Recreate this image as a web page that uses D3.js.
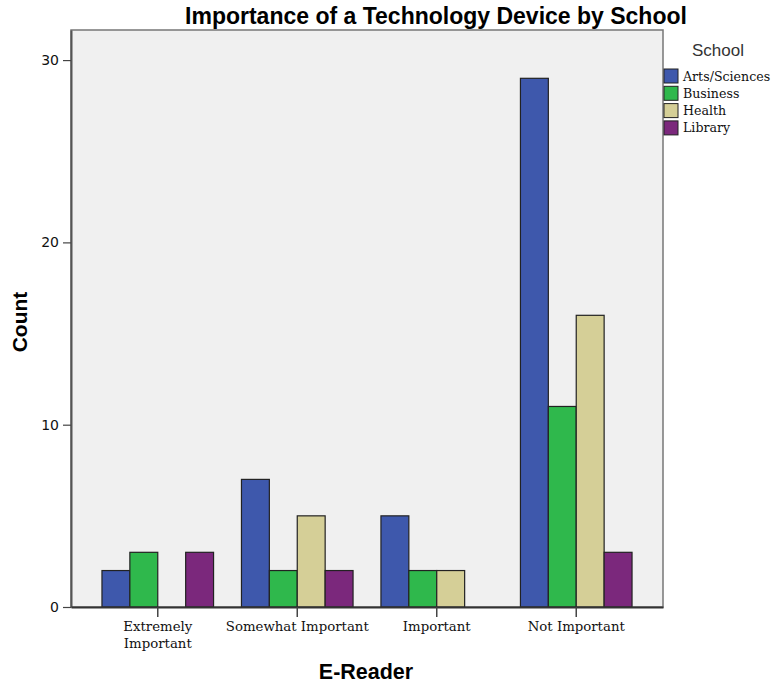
<!DOCTYPE html>
<html><head><meta charset="utf-8">
<script src="https://cdn.jsdelivr.net/npm/d3@7"></script>
<style>body{margin:0;background:#fff}</style>
</head><body>
<svg id="c" width="772" height="683"></svg>
<script>
const categories = ["Extremely Important", "Somewhat Important", "Important", "Not Important"];
const seriesNames = ["Arts/Sciences", "Business", "Health", "Library"];
const artsSciences = [2, 7, 5, 29];
const business = [3, 2, 2, 11];
const health = [0, 5, 2, 16];
const library = [3, 2, 0, 3];
const yTicks = [0, 10, 20, 30];
const colors = ["#3e58ac", "#2fb84c", "#d5cf97", "#7b287c"];

const values = [artsSciences, business, health, library];
const svg = d3.select("#c");
const L = 71, R = 663, T = 30, B = 607;

svg.append("rect").attr("x", L).attr("y", T).attr("width", R - L).attr("height", B - T)
  .attr("fill", "#f0f0f0").attr("stroke", "#777").attr("stroke-width", 1.5);

const x = d3.scaleBand().domain(categories).range([L, R]).paddingInner(0).paddingOuter(0.122);
const xs = d3.scaleBand().domain(seriesNames).range([0, x.bandwidth() * 0.8]);
const y = d3.scaleLinear().domain([0, 31.65]).range([B, T]);

const data = [];
categories.forEach((c, i) => seriesNames.forEach((s, j) => {
  if (values[j][i] > 0) data.push({c, s, v: values[j][i], j});
}));
svg.append("g").selectAll("rect").data(data).join("rect")
  .attr("x", d => x(d.c) + x.bandwidth() * 0.1 + xs(d.s))
  .attr("y", d => y(d.v))
  .attr("width", xs.bandwidth())
  .attr("height", d => y(0) - y(d.v))
  .attr("fill", d => colors[d.j]).attr("stroke", "#222").attr("stroke-width", 1.2);

// Y axis
const ya = svg.append("g").attr("transform", `translate(${L},0)`)
  .call(d3.axisLeft(y).tickValues(yTicks).tickSize(8).tickSizeOuter(0).tickPadding(4));
ya.select(".domain").attr("stroke", "#555").attr("stroke-width", 2);
ya.selectAll(".tick line").attr("stroke", "#444").attr("stroke-width", 1.2);
ya.selectAll(".tick text").attr("font-family", "DejaVu Sans, sans-serif").attr("font-size", 14).attr("fill", "#111");

// X axis
const xa = svg.append("g").attr("transform", `translate(0,${B})`)
  .call(d3.axisBottom(x).tickSize(10).tickSizeOuter(0).tickPadding(4));
xa.select(".domain").attr("stroke", "#333").attr("stroke-width", 2);
xa.selectAll(".tick line").attr("stroke", "#444").attr("stroke-width", 1.5);
xa.selectAll(".tick text").remove();
xa.selectAll(".tick").each(function(d) {
  const t = d3.select(this).append("text").attr("fill", "#111")
    .attr("font-family", "DejaVu Serif, serif").attr("font-size", 13.3)
    .attr("text-anchor", "middle").attr("y", 24);
  const lines = d === "Extremely Important" ? ["Extremely", "Important"] : [d];
  lines.forEach((ln, k) => t.append("tspan").attr("x", 0).attr("dy", k ? 17 : 0).text(ln));
});

// Titles
svg.append("text").attr("x", 436).attr("y", 24).attr("text-anchor", "middle")
  .attr("font-family", "Liberation Sans, Arial, sans-serif").attr("font-weight", "bold").attr("font-size", 23)
  .text("Importance of a Technology Device by School");
svg.append("text").attr("x", 366).attr("y", 679).attr("text-anchor", "middle")
  .attr("font-family", "Liberation Sans, Arial, sans-serif").attr("font-weight", "bold").attr("font-size", 21.5)
  .text("E-Reader");
svg.append("text").attr("transform", "translate(27,322) rotate(-90)").attr("text-anchor", "middle")
  .attr("font-family", "Liberation Sans, Arial, sans-serif").attr("font-weight", "bold").attr("font-size", 21)
  .text("Count");

// Legend
const lg = svg.append("g");
lg.append("text").attr("x", 718).attr("y", 56).attr("text-anchor", "middle")
  .attr("font-family", "Liberation Sans, Arial, sans-serif").attr("font-size", 17).attr("fill", "#333").text("School");
seriesNames.forEach((s, j) => {
  const yy = 69 + j * 17.3;
  lg.append("rect").attr("x", 664).attr("y", yy).attr("width", 14).attr("height", 14)
    .attr("fill", colors[j]).attr("stroke", "#222").attr("stroke-width", 1);
  lg.append("text").attr("x", 683).attr("y", yy + 11.5)
    .attr("font-family", "DejaVu Serif, serif").attr("font-size", 12.6).attr("fill", "#111").text(s);
});
</script>
</body></html>
